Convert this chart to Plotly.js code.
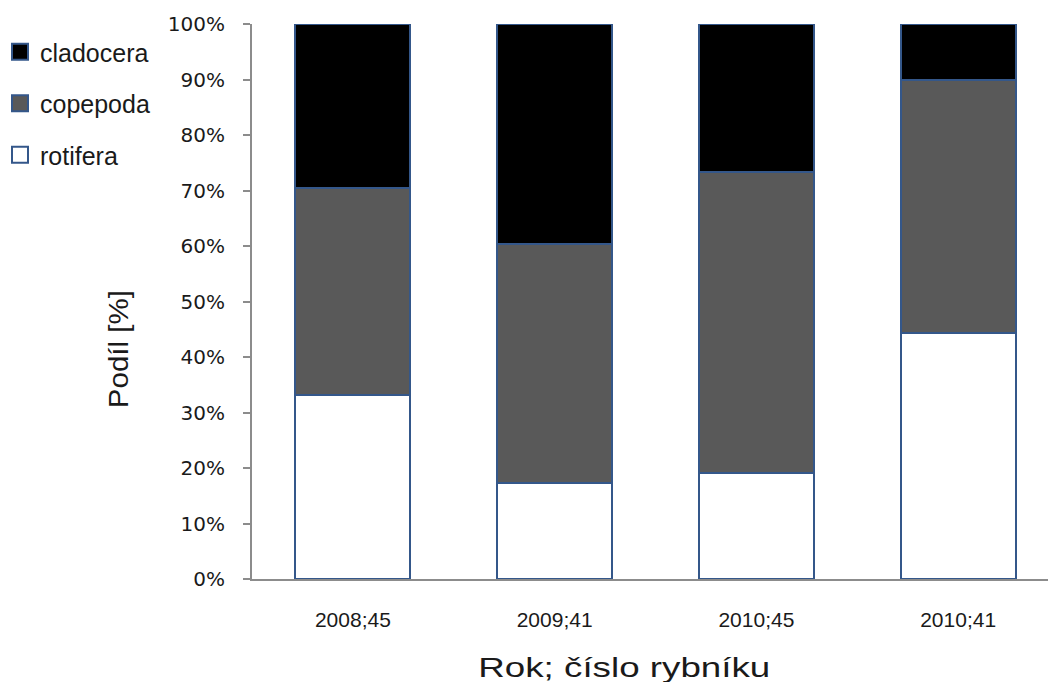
<!DOCTYPE html>
<html>
<head>
<meta charset="utf-8">
<script src="https://cdn.plot.ly/plotly-3.0.1.min.js"></script>
<style>
  html, body { margin: 0; padding: 0; background: #ffffff; overflow: hidden; }
  #chart { width: 1060px; height: 682px; }
</style>
</head>
<body>
<div id="chart"></div>
<script>
// Pond / year combinations
const categories = ['2008;45', '2009;41', '2010;45', '2010;41'];

// Share of each zooplankton group [%]
const rotifera  = [33.2, 17.3, 19.1, 44.3];
const copepoda  = [37.3, 43.1, 54.2, 45.6];
const cladocera = [29.5, 39.6, 26.7, 10.1];

const yTickValues = [0, 10, 20, 30, 40, 50, 60, 70, 80, 90, 100];
const yTickLabels = ['0%', '10%', '20%', '30%', '40%', '50%', '60%', '70%', '80%', '90%', '100%'];

const outline = { color: '#34578a', width: 2 };

// Stacked from the bottom: rotifera, copepoda, cladocera; legend lists them top-down reversed
const traces = [
  { name: 'rotifera',  y: rotifera,  color: '#ffffff', rank: 3 },
  { name: 'copepoda',  y: copepoda,  color: '#595959', rank: 2 },
  { name: 'cladocera', y: cladocera, color: '#000000', rank: 1 }
].map(s => ({
  type: 'bar',
  name: s.name,
  x: categories,
  y: s.y,
  legendgroup: s.name,
  legendrank: s.rank,
  marker: { color: s.color, line: outline },
  hoverinfo: 'x+y+name'
}));

const textColor = '#1a1a1a';
const plotLeft = 251, plotWidth = 808, plotTop = 24, plotHeight = 555;

const layout = {
  width: 1060,
  height: 682,
  margin: { l: plotLeft, r: 1060 - plotLeft - plotWidth, t: plotTop, b: 682 - plotTop - plotHeight },
  paper_bgcolor: '#ffffff',
  plot_bgcolor: '#ffffff',
  barmode: 'stack',
  bargap: 0.43,
  font: { family: 'Liberation Sans, Arial, sans-serif', color: textColor },
  showlegend: true,
  legend: {
    x: -plotLeft / plotWidth, xanchor: 'left',
    y: 1 - 5 / plotHeight, yanchor: 'top',
    traceorder: 'grouped',
    tracegroupgap: 16,
    font: { size: 25, family: 'Liberation Sans, Arial, sans-serif', color: textColor },
    itemwidth: 30,
    bgcolor: 'rgba(0,0,0,0)'
  },
  xaxis: {
    type: 'category',
    showline: true,
    linecolor: '#8c8c8c',
    linewidth: 2,
    ticks: '',
    showgrid: false,
    zeroline: false,
    ticklabelstandoff: 21,
    tickfont: { size: 21, family: 'Liberation Sans, Arial, sans-serif', color: textColor }
  },
  yaxis: {
    range: [0, 100],
    tickmode: 'array',
    tickvals: yTickValues,
    ticktext: yTickLabels,
    showline: true,
    linecolor: '#8c8c8c',
    linewidth: 2,
    ticks: 'outside',
    ticklen: 7,
    tickwidth: 2,
    tickcolor: '#8c8c8c',
    showgrid: false,
    zeroline: false,
    ticklabelstandoff: 14,
    tickfont: { size: 20, family: 'DejaVu Sans, Verdana, sans-serif', color: textColor }
  },
  annotations: [
    {
      text: 'Rok; číslo rybníku',
      xref: 'paper', yref: 'paper',
      x: (624 - plotLeft) / plotWidth, y: -(667 - plotTop - plotHeight) / plotHeight,
      xanchor: 'center', yanchor: 'middle',
      showarrow: false,
      font: { size: 28, color: textColor }
    },
    {
      text: 'Podíl [%]',
      xref: 'paper', yref: 'paper',
      x: -(plotLeft - 118) / plotWidth, y: (plotTop + plotHeight - 349) / plotHeight,
      xanchor: 'center', yanchor: 'middle',
      textangle: -90,
      showarrow: false,
      font: { size: 27, color: textColor }
    }
  ]
};

// Axis titles are set in a wide-running face; stretch them to their run length
const titleRunLength = [292, 118];

Plotly.newPlot('chart', traces, layout, { displayModeBar: false, staticPlot: true }).then(gd => {
  gd.querySelectorAll('.annotation-text').forEach((t, i) => {
    if (titleRunLength[i]) {
      t.setAttribute('textLength', titleRunLength[i]);
      t.setAttribute('lengthAdjust', 'spacingAndGlyphs');
    }
  });
  // larger legend swatches
  gd.querySelectorAll('.legend .legendpoints path').forEach(p => {
    p.setAttribute('d', 'M8,8H-8V-8H8Z');
  });
});
</script>
</body>
</html>
